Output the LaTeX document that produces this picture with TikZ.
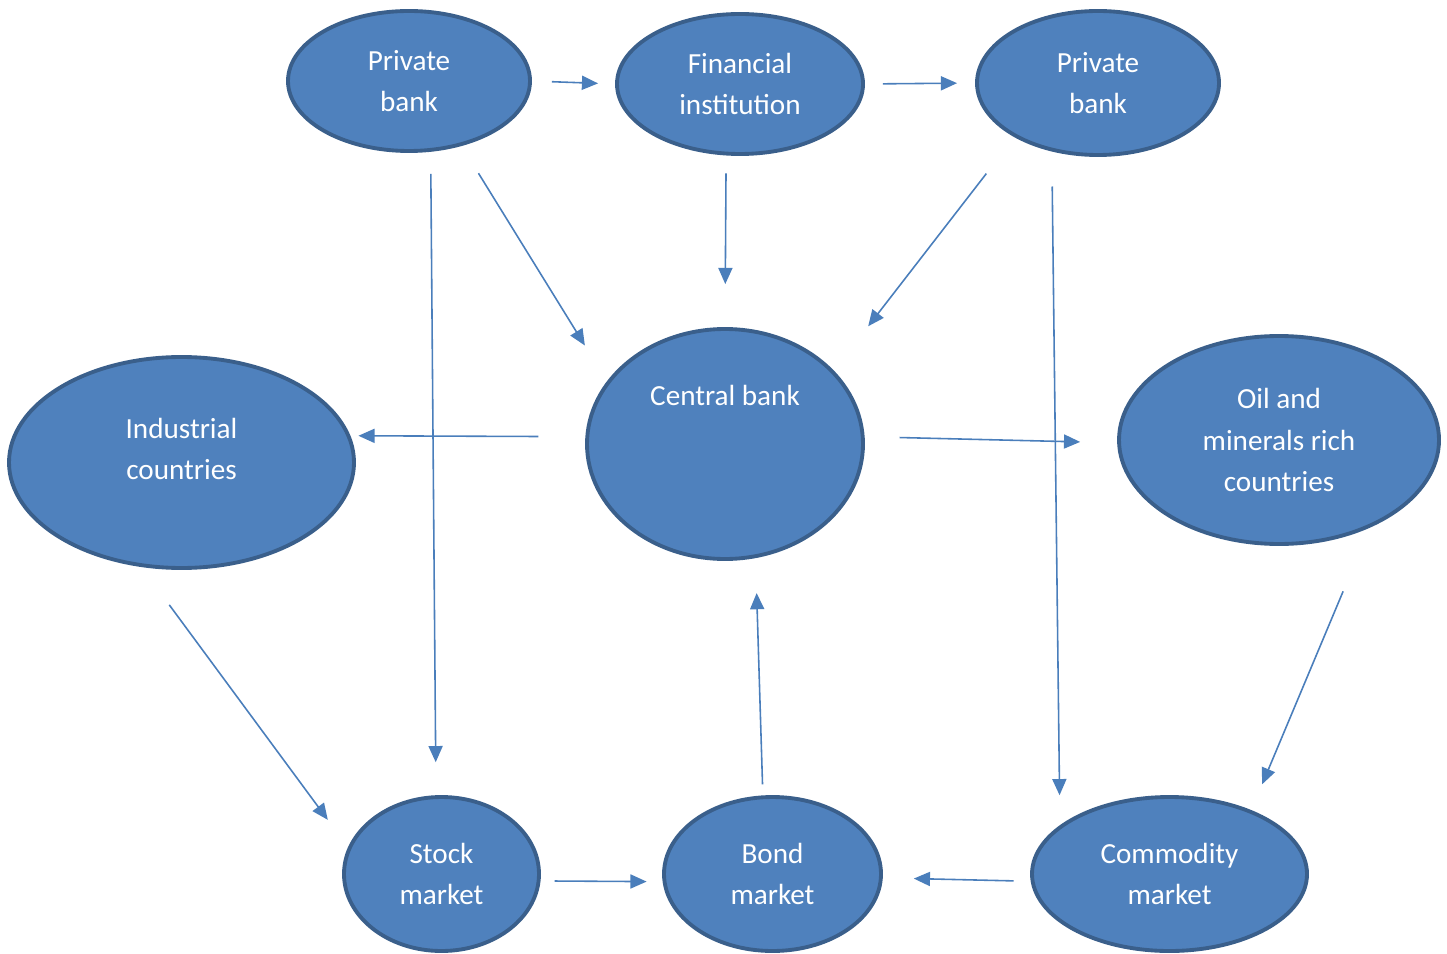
\documentclass[tikz,border=0pt]{standalone}
\usepackage{fontspec}
\setmainfont{Carlito}
\usetikzlibrary{shapes.geometric, arrows.meta}
\definecolor{bubblefill}{HTML}{4F81BD}
\definecolor{bubbleedge}{HTML}{3A5F8B}
\definecolor{arrowblue}{HTML}{4A7EBB}
\tikzstyle{bubble} = [ellipse, draw=bubbleedge, line width=1.1pt, fill=bubblefill, text=white, align=center, inner sep=1pt, font=\fontsize{8.3}{11.7}\selectfont]
\tikzstyle{arrow} = [draw=arrowblue, line width=0.45pt, -{Triangle[length=4.6pt,width=4pt]}]

\begin{document}
\begin{tikzpicture}
               \useasboundingbox (0,0) rectangle (14.47,-9.53);
               \node [bubble, minimum width=2.42cm, minimum height=1.40cm] at (4.09,-0.81) (pbank1) {Private\\bank};
               \node [bubble, minimum width=2.46cm, minimum height=1.40cm] at (7.40,-0.84) (finst) {Financial\\institution};
               \node [bubble, minimum width=2.42cm, minimum height=1.44cm] at (10.98,-0.83) (pbank2) {Private\\bank};
               \node [bubble, minimum width=2.76cm, minimum height=2.30cm] at (7.25,-4.44) (cbank) {Central bank\\[0.16cm]~\\~};
               \node [bubble, minimum width=3.45cm, minimum height=2.11cm] at (1.815,-4.625) (indus) {Industrial\\countries\\[-0.14cm]~};
               \node [bubble, minimum width=3.20cm, minimum height=2.08cm] at (12.79,-4.40) (oil) {Oil and\\minerals rich\\countries};
               \node [bubble, minimum width=1.95cm, minimum height=1.54cm] at (4.415,-8.74) (stock) {Stock\\market};
               \node [bubble, minimum width=2.17cm, minimum height=1.54cm] at (7.725,-8.74) (bond) {Bond\\market};
               \node [bubble, minimum width=2.75cm, minimum height=1.54cm] at (11.695,-8.74) (commod) {Commodity\\market};
               \draw [arrow, shorten <=0.2cm, shorten >=0.17cm] (pbank1.east) -- (finst.west);
               \draw [arrow, shorten <=0.18cm, shorten >=0.18cm] (finst.east) -- (pbank2.west);
               \draw [arrow, shorten <=0.32cm, shorten >=0.42cm] (pbank1.-51) -- (cbank.152);
               \draw [arrow, shorten <=0.18cm, shorten >=0.43cm] (finst.-101) -- (cbank.north);
               \draw [arrow, shorten <=0.46cm, shorten >=0.56cm] (pbank2.-147) -- (cbank.34);
               \draw [arrow, shorten <=0.22cm, shorten >=0.33cm] (pbank1.-73) -- (stock.94);
               \draw [arrow, shorten <=0.35cm, shorten >=0.30cm] (pbank2.-124) -- (commod.156);
               \draw [arrow, shorten <=0.47cm, shorten >=0.08cm] (cbank.177) -- (indus.9);
               \draw [arrow, shorten <=0.35cm, shorten >=0.37cm] (cbank.3) -- (oil.181);
               \draw [arrow, shorten <=0.47cm, shorten >=0.34cm] (indus.-111) -- (stock.164);
               \draw [arrow, shorten <=0.69cm, shorten >=0.28cm] (oil.-44) -- (commod.38);
               \draw [arrow, shorten <=0.14cm, shorten >=0.16cm] (stock.-4) -- (bond.184);
               \draw [arrow, shorten <=0.17cm, shorten >=0.31cm] (commod.183) -- (bond.-2);
               \draw [arrow, shorten <=0.11cm, shorten >=0.35cm] (bond.97) -- (cbank.-75);
               \end{tikzpicture}
\end{document}
